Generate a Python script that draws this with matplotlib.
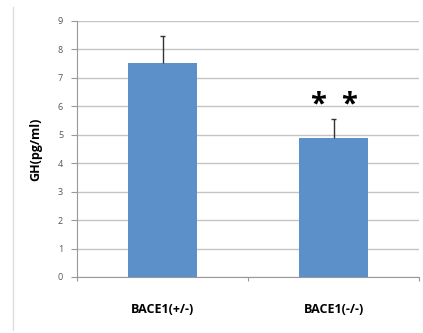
import matplotlib.pyplot as plt
from matplotlib.lines import Line2D

# data
groups = ['BACE1(+/-)', 'BACE1(-/-)']
means = [7.52, 4.89]
errs = [0.95, 0.67]
yticks = list(range(0, 10))

plt.rcParams['font.family'] = ['Open Sans', 'DejaVu Sans']

fig = plt.figure(figsize=(4.23, 3.33), dpi=100)
ax = fig.add_axes([77 / 423, 1 - 277 / 333, 342 / 423, 256 / 333])

x = list(range(len(groups)))
ax.bar(x, means, width=0.4, color='#5b90c9', zorder=3)
# upper-only error bars with a small cap
tops = [m + e for m, e in zip(means, errs)]
ax.vlines(x, means, tops, color='#333333', linewidth=1, zorder=4)
ax.hlines(tops, [i - 0.012 for i in x], [i + 0.012 for i in x],
          color='#333333', linewidth=1, zorder=4)

# significance marks
ax.text(1 - 0.09, 6.05, '*', ha='center', va='center', fontsize=21, fontweight='bold')
ax.text(1 + 0.09, 6.05, '*', ha='center', va='center', fontsize=21, fontweight='bold')

ax.set_xlim(-0.5, 1.5)
ax.set_ylim(0, 9)
ax.set_yticks(yticks)
ax.set_yticklabels([str(t) for t in yticks], fontsize=6.5, color='#555555')
ax.grid(axis='y', color='#c4c4c4', linewidth=1, zorder=0)

ax.set_xticks([-0.5, 0.5, 1.5])
ax.set_xticklabels([])
ax.set_xticks(x, minor=True)
ax.set_xticklabels(groups, minor=True, fontsize=9, fontweight='bold')
ax.tick_params(axis='x', which='minor', length=0, pad=19)
ax.tick_params(axis='x', which='major', length=3, color='#999999')
ax.tick_params(axis='y', length=4, color='#999999', pad=6)

for s in ['top', 'right']:
    ax.spines[s].set_visible(False)
ax.spines['left'].set_color('#999999')
ax.spines['bottom'].set_color('#999999')

ax.set_ylabel('GH(pg/ml)', fontsize=9, fontweight='bold', labelpad=11)

# outer frame line on the left
fig.add_artist(Line2D([13 / 423, 13 / 423], [3 / 333, 1 - 7 / 333],
                      color='#dddddd', linewidth=1))

fig.savefig('out.png', dpi=100)
